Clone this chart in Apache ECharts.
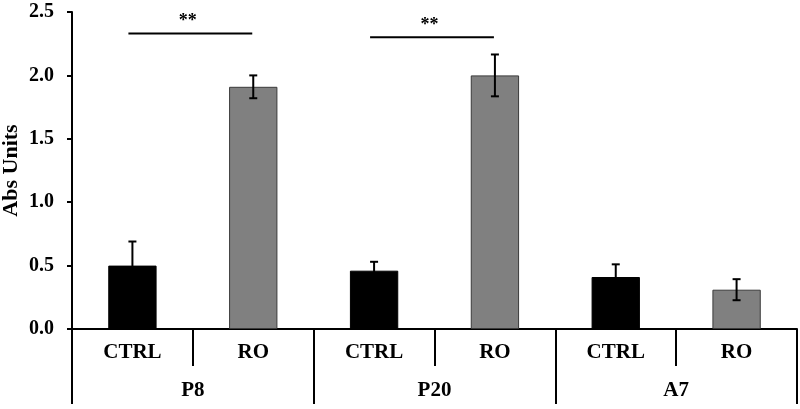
<!DOCTYPE html>
<html>
<head>
<meta charset="utf-8">
<script src="https://cdn.jsdelivr.net/npm/echarts@6/dist/echarts.min.js"></script>
<style>
html,body{margin:0;padding:0;background:#fff;}
#chart{width:800px;height:409px;}
</style>
</head>
<body>
<div id="chart"></div>
<script>
var categories = ['CTRL', 'RO', 'CTRL', 'RO', 'CTRL', 'RO'];
var groups = ['P8', 'P20', 'A7'];
var values = [0.50, 1.91, 0.46, 2.00, 0.41, 0.31];
var errors = [0.19, 0.09, 0.07, 0.165, 0.10, 0.083];
var yTicks = [0, 0.5, 1.0, 1.5, 2.0, 2.5];
// significance: [from category index, to category index, line level, label]
var sigFrom = [0, 2];
var sigTo = [1, 3];
var sigLevel = [2.33, 2.30];
var sigLabel = ['**', '**'];

var FONT = '"Liberation Serif", "Times New Roman", serif';
var barColors = ['#000000', '#808080'];

var barData = values.map(function (v, i) {
  return {
    value: v,
    itemStyle: {
      color: barColors[i % 2],
      borderColor: i % 2 ? '#3a3a3a' : '#000000',
      borderWidth: 1
    }
  };
});
var errData = values.map(function (v, i) { return [i, v - errors[i], v + errors[i]]; });
var sigData = sigFrom.map(function (f, i) { return [f, sigLevel[i], sigTo[i], i]; });

var chart = echarts.init(document.getElementById('chart'), null, {renderer: 'canvas'});
chart.setOption({
  animation: false,
  backgroundColor: '#ffffff',
  grid: {left: 72, right: 3, top: 12, bottom: 80, containLabel: false, outerBoundsMode: 'none'},
  xAxis: [{
    type: 'category',
    data: categories,
    position: 'bottom',
    axisLine: {show: true, lineStyle: {color: '#000', width: 2}},
    axisTick: {show: true, alignWithLabel: false, length: 37, lineStyle: {color: '#000', width: 2}},
    axisLabel: {fontFamily: FONT, fontWeight: 'bold', fontSize: 21, color: '#000', margin: 13, interval: 0},
    splitLine: {show: false}
  }, {
    type: 'category',
    data: groups,
    position: 'bottom',
    axisLine: {show: false},
    axisTick: {show: true, length: 75, lineStyle: {color: '#000', width: 2}},
    axisLabel: {fontFamily: FONT, fontWeight: 'bold', fontSize: 21, color: '#000', margin: 51, interval: 0},
    splitLine: {show: false}
  }],
  yAxis: {
    type: 'value',
    min: yTicks[0],
    max: yTicks[yTicks.length - 1],
    interval: 0.5,
    name: 'Abs Units',
    nameLocation: 'middle',
    nameRotate: 90,
    nameGap: 50,
    nameMoveOverlap: false,
    nameTextStyle: {fontFamily: FONT, fontWeight: 'bold', fontSize: 22, color: '#000'},
    axisLine: {show: true, lineStyle: {color: '#000', width: 2}},
    axisTick: {show: true, length: 5, lineStyle: {color: '#000', width: 2}},
    axisLabel: {fontFamily: FONT, fontWeight: 'bold', fontSize: 20, color: '#000', margin: 18,
      formatter: function (v) { return v.toFixed(1); }},
    splitLine: {show: false}
  },
  series: [{
    type: 'bar',
    xAxisIndex: 0,
    data: barData,
    barWidth: '40%'
  }, {
    type: 'custom',
    xAxisIndex: 0,
    data: errData,
    encode: {x: 0, y: [1, 2]},
    z: 5,
    renderItem: function (params, api) {
      var x = api.value(0);
      var lo = api.coord([x, api.value(1)]);
      var hi = api.coord([x, api.value(2)]);
      var hw = 4;
      var st = {stroke: '#000', lineWidth: 2};
      return {
        type: 'group',
        children: [
          {type: 'line', shape: {x1: hi[0], y1: hi[1], x2: lo[0], y2: lo[1]}, style: st},
          {type: 'line', shape: {x1: hi[0] - hw, y1: hi[1], x2: hi[0] + hw, y2: hi[1]}, style: st},
          {type: 'line', shape: {x1: lo[0] - hw, y1: lo[1], x2: lo[0] + hw, y2: lo[1]}, style: st}
        ]
      };
    }
  }, {
    type: 'custom',
    xAxisIndex: 0,
    data: sigData,
    encode: {x: [0, 2], y: 1},
    z: 5,
    renderItem: function (params, api) {
      var a = api.coord([api.value(0), api.value(1)]);
      var b = api.coord([api.value(2), api.value(1)]);
      var idx = api.value(3);
      return {
        type: 'group',
        children: [
          {type: 'line', shape: {x1: a[0] - 4, y1: a[1], x2: b[0] - 1, y2: b[1]}, style: {stroke: '#000', lineWidth: 2}},
          {type: 'text', x: (a[0] + b[0]) / 2 - 5, y: a[1] - 3,
            style: {text: sigLabel[idx], fontFamily: FONT, fontWeight: 'bold', fontSize: 18, fill: '#000',
              align: 'center', verticalAlign: 'bottom'}}
        ]
      };
    }
  }]
});
</script>
</body>
</html>
